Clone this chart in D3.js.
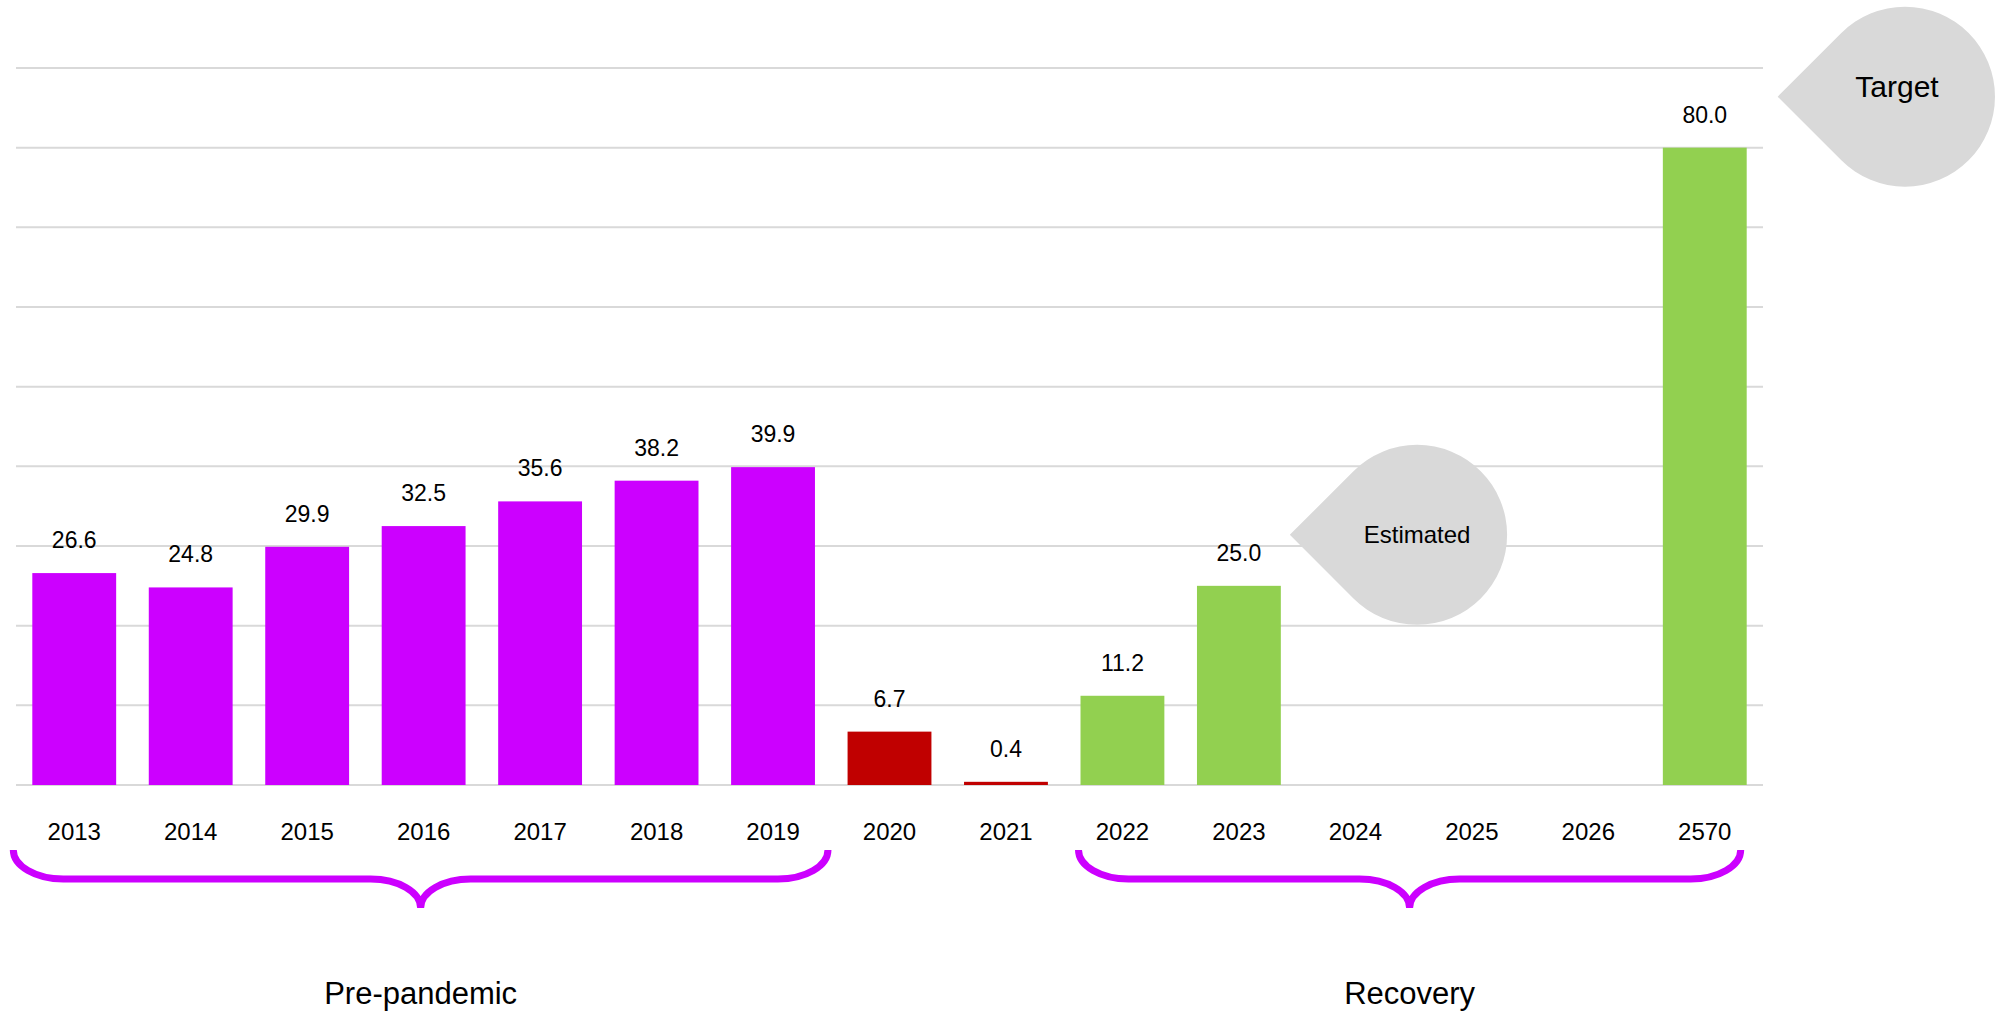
<!DOCTYPE html>
<html>
<head>
<meta charset="utf-8">
<script src="https://cdn.jsdelivr.net/npm/d3@7"></script>
<style>
  body { margin: 0; background: #fff; }
  text { font-family: "Liberation Sans", Arial, sans-serif; fill: #000; }
</style>
</head>
<body>
<div id="chart_box"></div>
<script>
// data
var years  = ["2013","2014","2015","2016","2017","2018","2019","2020","2021","2022","2023","2024","2025","2026","2570"];
var values = [26.6, 24.8, 29.9, 32.5, 35.6, 38.2, 39.9, 6.7, 0.4, 11.2, 25.0, null, null, null, 80.0];
var period = ["pre","pre","pre","pre","pre","pre","pre","covid","covid","rec","rec","rec","rec","rec","rec"];
var gridTicks = [0, 10, 20, 30, 40, 50, 60, 70, 80, 90];

var groupNames = ["Pre-pandemic", "Recovery"];
var groupFrom  = ["2013", "2022"];
var groupTo    = ["2019", "2570"];

var noteLabels = ["Estimated", "Target"];
var noteYears  = ["2023", "2570"];
var noteLevels = [31.4, 86.4];

var colors = { pre: "#CC00FF", covid: "#C00000", rec: "#92D050" };

var W = 2012, H = 1012;
var svg = d3.select("#chart_box").append("svg")
    .attr("width", W).attr("height", H);

var x = d3.scaleBand().domain(years).range([16, 1763])
    .paddingInner(0.28).paddingOuter(0.14);
var y = d3.scaleLinear().domain([0, 90]).range([785, 68]);

// gridlines
svg.append("g").attr("class", "grid")
    .selectAll("line").data(gridTicks).enter().append("line")
    .attr("x1", 16).attr("x2", 1763)
    .attr("y1", d => y(d)).attr("y2", d => y(d))
    .style("stroke", "#D9D9D9").style("stroke-width", 2);

// bars
var rows = years.map((yr, i) => ({ year: yr, value: values[i], period: period[i] }))
    .filter(d => d.value !== null);

svg.append("g").selectAll("rect").data(rows).enter().append("rect")
    .attr("x", d => x(d.year))
    .attr("y", d => y(d.value))
    .attr("width", x.bandwidth())
    .attr("height", d => y(0) - y(d.value))
    .attr("fill", d => colors[d.period]);

svg.append("g").selectAll("text").data(rows).enter().append("text")
    .attr("x", d => x(d.year) + x.bandwidth() / 2)
    .attr("y", d => y(d.value) - 25)
    .attr("text-anchor", "middle")
    .style("font-size", "23px")
    .text(d => d.value.toFixed(1));

// category axis
var xAxis = svg.append("g").attr("transform", "translate(0," + y(0) + ")")
    .call(d3.axisBottom(x).tickSize(0).tickPadding(38));
xAxis.select(".domain").remove();
xAxis.selectAll("text").style("font-size", "24px")
    .style("font-family", "'Liberation Sans', Arial, sans-serif").attr("fill", "#000");

// braces under the groups
var yTop = 850, yMid = 879, yTip = 908, rx = 50, ry = 29;
function bracePath(x0, x1) {
  var xm = (x0 + x1) / 2;
  return "M" + x0 + "," + yTop +
    " A" + rx + "," + ry + " 0 0 0 " + (x0 + rx) + "," + yMid +
    " L" + (xm - rx) + "," + yMid +
    " A" + rx + "," + ry + " 0 0 1 " + xm + "," + yTip +
    " A" + rx + "," + ry + " 0 0 1 " + (xm + rx) + "," + yMid +
    " L" + (x1 - rx) + "," + yMid +
    " A" + rx + "," + ry + " 0 0 0 " + x1 + "," + yTop;
}

var groups = groupNames.map((n, i) => ({ name: n, from: groupFrom[i], to: groupTo[i] }));
// how far each brace reaches past its first / last bar
var braceReach = { "Pre-pandemic": [-19, 13], "Recovery": [-2, -6] };

groups.forEach(function (g) {
  var x0 = x(g.from) + braceReach[g.name][0];
  var x1 = x(g.to) + x.bandwidth() + braceReach[g.name][1];
  svg.append("path").attr("d", bracePath(x0, x1))
      .attr("fill", "none").attr("stroke", "#CC00FF").attr("stroke-width", 7);
  svg.append("text")
      .attr("x", (x0 + x1) / 2).attr("y", 1004)
      .attr("text-anchor", "middle")
      .style("font-size", "31px")
      .text(g.name);
});

// teardrop call-outs
var notes = noteLabels.map((t, i) => ({ label: t, year: noteYears[i], level: noteLevels[i] }));
var noteStyle = {
  "Estimated": { gap: 9,  size: 24, dx: 0,  dy: 8 },
  "Target":    { gap: 31, size: 30, dx: -8, dy: 0 }
};
var r = 90;

notes.forEach(function (n) {
  var st = noteStyle[n.label];
  var tipX = x(n.year) + x.bandwidth() + st.gap;
  var cy = y(n.level);
  var cx = tipX + r * Math.SQRT2;
  var k = r / Math.SQRT2;
  var d = "M" + tipX + "," + cy +
    " L" + (cx - k) + "," + (cy - k) +
    " A" + r + "," + r + " 0 1 1 " + (cx - k) + "," + (cy + k) + " Z";
  svg.append("path").attr("d", d).attr("fill", "#D9D9D9");
  svg.append("text")
      .attr("x", cx + st.dx).attr("y", cy + st.dy)
      .attr("text-anchor", "middle")
      .style("font-size", st.size + "px")
      .text(n.label);
});
</script>
</body>
</html>
